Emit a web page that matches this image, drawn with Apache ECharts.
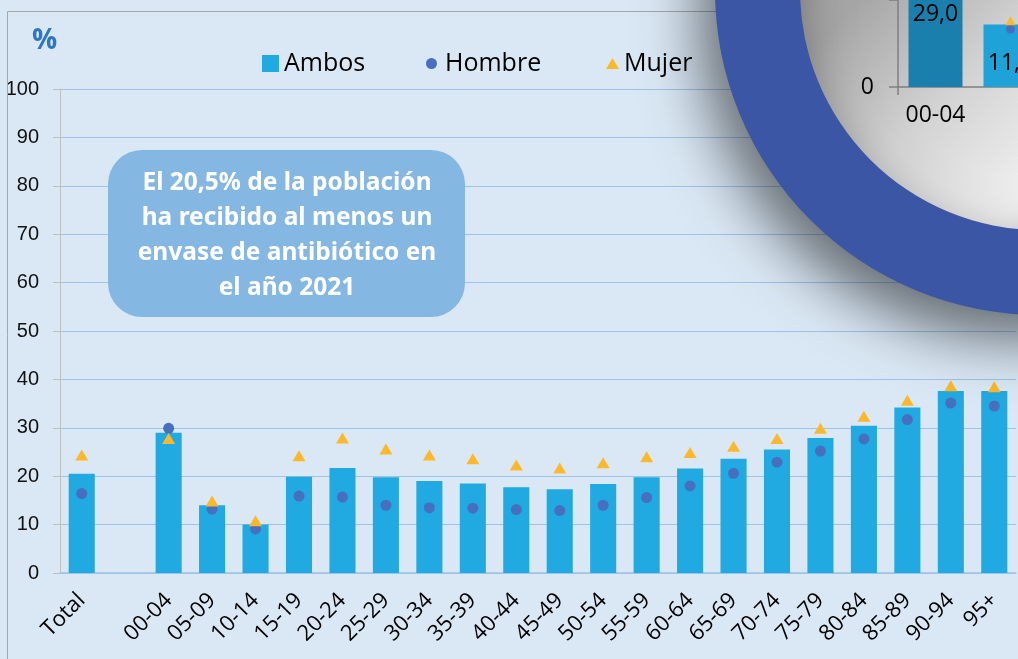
<!DOCTYPE html>
<html>
<head>
<meta charset="utf-8">
<script src="https://cdn.jsdelivr.net/npm/echarts@6/dist/echarts.min.js"></script>
<style>
  html, body { margin: 0; padding: 0; background: #dae8f5; }
  #chart { width: 1018px; height: 659px; }
</style>
</head>
<body>
<div id="chart"></div>
<script>
// main chart data
var categories = ['Total', '', '00-04', '05-09', '10-14', '15-19', '20-24', '25-29', '30-34', '35-39',
  '40-44', '45-49', '50-54', '55-59', '60-64', '65-69', '70-74', '75-79', '80-84', '85-89', '90-94', '95+'];
var ambos = [20.5, '-', 29.0, 14.0, 10.0, 19.9, 21.7, 19.8, 19.0, 18.5, 17.7, 17.3, 18.4, 19.8, 21.6, 23.6, 25.5, 27.9, 30.4, 34.2, 37.6, 37.6];
var hombre = [16.4, '-', 29.9, 13.2, 9.1, 15.9, 15.7, 14.0, 13.5, 13.4, 13.1, 12.9, 14.0, 15.6, 18.0, 20.6, 22.9, 25.2, 27.7, 31.7, 35.1, 34.5];
var mujer = [24.4, '-', 27.8, 14.9, 10.8, 24.2, 27.9, 25.6, 24.4, 23.6, 22.3, 21.7, 22.8, 24.0, 24.9, 26.2, 27.8, 29.9, 32.4, 35.7, 38.7, 38.5];

// zoomed inset (inside the magnifier)
var insetCategories = ['00-04', '05-09'];
var insetAmbos = [29.0, 11.2];
var insetHombre = [29.9, 10.4];
var insetMujer = [27.8, 11.9];

var callout = 'El 20,5% de la población\nha recibido al menos un\nenvase de antibiótico en\nel año 2021';

var font = "'Open Sans', 'Noto Sans', sans-serif";
var lensCx = 1040, lensCy = -10;

var myChart = echarts.init(document.getElementById('chart'), null, { renderer: 'canvas' });

function comma(p) {
  return p.value.toFixed(1).replace('.', ',');
}

myChart.setOption({
  animation: false,
  backgroundColor: '#dae8f5',
  title: {
    text: '%',
    left: 32,
    top: 27,
    padding: 0,
    textStyle: { color: '#2e75c6', fontSize: 28, fontWeight: 'bold', fontFamily: font }
  },
  legend: [
    {
      data: [{ name: 'Ambos', icon: 'rect' }],
      left: 262, top: 51, padding: 0,
      itemWidth: 17, itemHeight: 17,
      selectedMode: false,
      textStyle: { fontSize: 25, color: '#000', fontFamily: font }
    },
    {
      data: [{ name: 'Hombre', icon: 'circle' }],
      left: 426, top: 51, padding: 0,
      itemWidth: 17, itemHeight: 11,
      selectedMode: false,
      textStyle: { fontSize: 25, color: '#000', fontFamily: font }
    },
    {
      data: [{ name: 'Mujer', icon: 'triangle' }],
      left: 606, top: 51, padding: 0,
      itemWidth: 13, itemHeight: 11,
      selectedMode: false,
      textStyle: { fontSize: 25, color: '#000', fontFamily: font }
    }
  ],
  grid: [
    { left: 60, right: 2, top: 89, bottom: 86, outerBoundsMode: 'none' },
    { left: 898, top: 0, width: 150, height: 87, outerBoundsMode: 'none' }
  ],
  xAxis: [
    {
      type: 'category',
      gridIndex: 0,
      data: categories,
      axisLine: { lineStyle: { color: '#9dc3e6', width: 1.5 } },
      axisTick: { show: false },
      axisLabel: {
        interval: 0, rotate: 45, margin: 24,
        fontSize: 22, color: '#000', fontFamily: font
      }
    },
    {
      type: 'category',
      gridIndex: 1,
      z: 11,
      data: insetCategories,
      axisLine: { lineStyle: { color: '#7f7f7f', width: 1.5 } },
      axisTick: { show: true, length: 8, lineStyle: { color: '#7f7f7f', width: 1.5 } },
      axisLabel: { margin: 17, fontSize: 23, color: '#000', fontFamily: font }
    }
  ],
  yAxis: [
    {
      type: 'value',
      gridIndex: 0,
      min: 0, max: 100, interval: 10,
      axisLine: { show: true, lineStyle: { color: '#bfbfbf' } },
      axisTick: { show: true, length: 7, lineStyle: { color: '#bfbfbf' } },
      splitLine: { lineStyle: { color: '#9dc3e6', width: 1.2 } },
      axisLabel: {
        margin: 21, fontSize: 20, color: '#111',
        fontFamily: "'Liberation Sans Narrow', 'Arial Narrow', 'Liberation Sans', sans-serif"
      }
    },
    {
      type: 'value',
      gridIndex: 1,
      z: 11,
      min: 0, max: 15.6, interval: 15.6,
      axisLine: { show: true, lineStyle: { color: '#7f7f7f', width: 1.5 } },
      axisTick: { show: true, length: 9, lineStyle: { color: '#7f7f7f', width: 1.5 } },
      splitLine: { show: false },
      axisLabel: {
        margin: 24, fontSize: 23, color: '#000', fontFamily: font,
        formatter: function (v) { return v === 0 ? '0' : ''; }
      }
    }
  ],
  graphic: [
    // chart frame
    {
      type: 'rect', z: 1, silent: true,
      shape: { x: 7.5, y: 11.5, width: 1200, height: 900 },
      style: { fill: null, stroke: '#a6a6a6', lineWidth: 1 }
    },
    // callout box
    {
      type: 'rect', z: 5, silent: true,
      shape: { x: 108, y: 150, width: 357, height: 167, r: 34 },
      style: { fill: '#85b7e3' }
    },
    {
      type: 'text', z: 6, silent: true,
      x: 287, y: 236,
      style: {
        text: callout,
        fill: '#ffffff',
        fontFamily: "'Noto Sans', 'Open Sans', sans-serif",
        fontWeight: 'bold',
        fontSize: 24.5,
        lineHeight: 35,
        align: 'center',
        verticalAlign: 'middle'
      }
    },
    // magnifier lens
    {
      type: 'circle', z: 10, silent: true,
      shape: { cx: lensCx, cy: lensCy, r: 250 },
      style: {
        fill: {
          type: 'linear', global: true,
          x: 830, y: 30, x2: 1010, y2: 210,
          colorStops: [
            { offset: 0, color: '#a6a6a6' },
            { offset: 0.5, color: '#d2d2d2' },
            { offset: 1, color: '#f0f0f0' }
          ]
        }
      }
    },
    {
      type: 'ring', z: 12, silent: true,
      shape: { cx: lensCx, cy: lensCy, r: 325, r0: 240 },
      style: {
        fill: '#3a56a5',
        shadowBlur: 60,
        shadowColor: 'rgba(0,0,0,0.55)',
        shadowOffsetX: -15,
        shadowOffsetY: 25
      }
    }
  ],
  series: [
    {
      name: 'Ambos',
      type: 'bar',
      xAxisIndex: 0, yAxisIndex: 0,
      data: ambos,
      barCategoryGap: '40%',
      itemStyle: { color: '#21a9e1' }
    },
    {
      name: 'Hombre',
      type: 'scatter',
      xAxisIndex: 0, yAxisIndex: 0,
      data: hombre,
      symbol: 'circle',
      symbolSize: 11,
      itemStyle: { color: '#4670bf', opacity: 1 }
    },
    {
      name: 'Mujer',
      type: 'scatter',
      xAxisIndex: 0, yAxisIndex: 0,
      data: mujer,
      symbol: 'triangle',
      symbolSize: [13, 11],
      itemStyle: { color: '#fbb82a', opacity: 1 }
    },
    // inset series
    {
      name: 'zoom-ambos',
      type: 'bar',
      xAxisIndex: 1, yAxisIndex: 1,
      z: 11,
      silent: true,
      clip: false,
      barWidth: 54,
      data: [
        { value: insetAmbos[0], itemStyle: { color: '#1a7fad' } },
        { value: insetAmbos[1], itemStyle: { color: '#1ea2d8' } }
      ],
      label: {
        show: true, position: 'inside',
        offset: [0, 8],
        formatter: comma,
        fontSize: 23, color: '#000', fontFamily: font
      }
    },
    {
      name: 'zoom-hombre',
      type: 'scatter',
      xAxisIndex: 1, yAxisIndex: 1,
      z: 11, silent: true,
      clip: false,
      data: insetHombre,
      symbolSize: 9,
      itemStyle: { color: '#4670bf', opacity: 1 }
    },
    {
      name: 'zoom-mujer',
      type: 'scatter',
      xAxisIndex: 1, yAxisIndex: 1,
      z: 11, silent: true,
      clip: false,
      data: insetMujer,
      symbol: 'triangle',
      symbolSize: [10, 9],
      itemStyle: { color: '#fbb82a', opacity: 1 }
    }
  ]
});
</script>
</body>
</html>
